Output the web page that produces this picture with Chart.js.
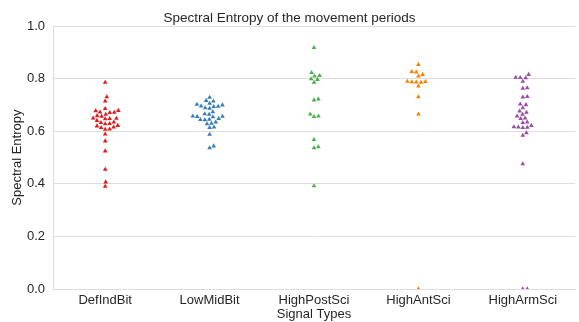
<!DOCTYPE html>
<html>
<head>
<meta charset="utf-8">
<script src="https://cdn.jsdelivr.net/npm/chart.js@4"></script>
<style>
  body { margin: 0; background: #fff; }
  #wrap { width: 579px; height: 322px; }
</style>
</head>
<body>
<div id="wrap"><canvas id="grafico"></canvas></div>
<script>
// categorias e valores
const categorias = ['DefIndBit', 'LowMidBit', 'HighPostSci', 'HighAntSci', 'HighArmSci'];

const defIndBit = [0.786, 0.731, 0.715, 0.686, 0.679, 0.678, 0.673, 0.672, 0.671, 0.664, 0.659, 0.657,
    0.650, 0.649, 0.648, 0.647, 0.641, 0.635, 0.633, 0.629, 0.628, 0.622, 0.620, 0.616, 0.614,
    0.608, 0.607, 0.589, 0.563, 0.525, 0.455, 0.407, 0.390];
const lowMidBit = [0.729, 0.717, 0.715, 0.706, 0.702, 0.700, 0.696, 0.695, 0.694, 0.689, 0.687,
    0.674, 0.666, 0.664, 0.658, 0.657, 0.656, 0.655, 0.648, 0.645, 0.644, 0.643, 0.635, 0.630,
    0.628, 0.616, 0.614, 0.588, 0.544, 0.537];
const highPostSci = [0.918, 0.823, 0.812, 0.810, 0.799, 0.797, 0.786, 0.722, 0.719, 0.665,
    0.658, 0.656, 0.568, 0.541, 0.537, 0.392];
const highAntSci = [0.854, 0.827, 0.825, 0.816, 0.810, 0.790, 0.789, 0.788, 0.787, 0.786,
    0.772, 0.731, 0.665, 0.0];
const highArmSci = [0.816, 0.805, 0.804, 0.803, 0.790, 0.765, 0.763, 0.732, 0.730, 0.703, 0.701,
    0.689, 0.677, 0.672, 0.664, 0.658, 0.650, 0.648, 0.635, 0.633, 0.622, 0.617, 0.616, 0.615,
    0.614, 0.594, 0.584, 0.476, 0.0, 0.0];

const series = [defIndBit, lowMidBit, highPostSci, highAntSci, highArmSci];
const cores = ['#e41a1c', '#377eb8', '#4daf4a', '#ff7f00', '#984ea3'];
const yTicks = [0, 0.2, 0.4, 0.6, 0.8, 1.0];

// escala aproximada em pixels, so para espalhar os pontos (swarm)
const PX_Y = 263;
const PX_CAT = 105;
const DIAM = 4.5;

function swarm(vals) {
    const pts = vals.map((v, i) => ({ i, y: v * PX_Y })).sort((a, b) => a.y - b.y);
    const placed = [];
    const out = new Array(vals.length).fill(0);
    pts.forEach(p => {
        const viz = placed.filter(q => Math.abs(q.y - p.y) < DIAM);
        const cands = [0];
        viz.forEach(q => {
            const dx = Math.sqrt(DIAM * DIAM - (q.y - p.y) ** 2);
            cands.push(q.x + dx, q.x - dx);
        });
        cands.sort((a, b) => Math.abs(a) - Math.abs(b));
        let x = 0;
        for (const c of cands) {
            if (viz.every(q => (q.x - c) ** 2 + (q.y - p.y) ** 2 >= DIAM * DIAM - 1e-6)) { x = c; break; }
        }
        placed.push({ x, y: p.y });
        out[p.i] = x;
    });
    return out;
}

const datasets = series.map((vals, k) => {
    const offs = swarm(vals);
    return {
        label: categorias[k],
        data: vals.map((v, i) => ({ x: k + offs[i] / PX_CAT, y: v })),
        pointStyle: 'triangle',
        pointRadius: 2.7,
        backgroundColor: cores[k],
        borderColor: cores[k],
        borderWidth: 0,
        clip: 0
    };
});

const texto = '#262626';
const grade = '#dddddd';

new Chart(document.getElementById('grafico').getContext('2d'), {
    type: 'scatter',
    data: { datasets },
    options: {
        responsive: true,
        maintainAspectRatio: false,
        animation: false,
        layout: { padding: { left: 0, right: 0, top: 0, bottom: 0 } },
        plugins: {
            legend: { display: false },
            tooltip: { enabled: false },
            title: {
                display: true,
                text: 'Spectral Entropy of the movement periods',
                color: texto,
                font: { family: 'Liberation Sans, Arial', size: 13.5, weight: 'normal' },
                padding: { top: 10, bottom: 0 }
            }
        },
        scales: {
            x: {
                type: 'linear',
                min: -0.5,
                max: 4.5,
                afterBuildTicks: s => { s.ticks = categorias.map((c, i) => ({ value: i })); },
                afterFit: s => { s.height = 33; },
                ticks: {
                    callback: v => categorias[v],
                    color: texto,
                    padding: 4,
                    font: { family: 'Liberation Sans, Arial', size: 13 }
                },
                grid: { display: false, drawTicks: false },
                border: { display: true, color: grade, width: 1 },
                title: {
                    display: true,
                    text: 'Signal Types',
                    color: texto,
                    padding: 0,
                    font: { family: 'Liberation Sans, Arial', size: 13 }
                }
            },
            y: {
                min: 0,
                max: 1,
                afterBuildTicks: s => { s.ticks = yTicks.map(v => ({ value: v })); },
                afterFit: s => { s.width = 53; },
                ticks: {
                    callback: v => v.toFixed(1),
                    color: texto,
                    padding: 8,
                    font: { family: 'Liberation Sans, Arial', size: 13 }
                },
                grid: { color: grade, drawTicks: false },
                border: { display: true, color: grade, width: 1 },
                title: {
                    display: true,
                    text: 'Spectral Entropy',
                    color: texto,
                    padding: { top: 10, bottom: 0 },
                    font: { family: 'Liberation Sans, Arial', size: 13 }
                }
            }
        }
    }
});
</script>
</body>
</html>
